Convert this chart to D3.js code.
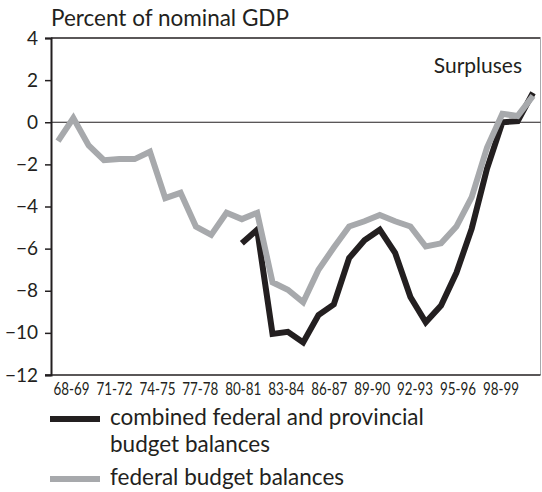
<!DOCTYPE html>
<html>
<head>
<meta charset="utf-8">
<script src="https://cdn.jsdelivr.net/npm/d3@7"></script>
<style>
  html, body { margin: 0; padding: 0; background: #fff; }
  svg { display: block; }
  text { font-family: Lato, "Open Sans", sans-serif; fill: #231f20; }
</style>
</head>
<body>
<svg id="chart" width="542" height="492"></svg>
<script>
// ---- data ----
const years = ["68-69","69-70","70-71","71-72","72-73","73-74","74-75","75-76","76-77","77-78",
  "78-79","79-80","80-81","81-82","82-83","83-84","84-85","85-86","86-87","87-88",
  "88-89","89-90","90-91","91-92","92-93","93-94","94-95","95-96","96-97","97-98",
  "98-99","99-00"];
const federal = [-0.9, 0.2, -1.1, -1.8, -1.75, -1.75, -1.4, -3.6, -3.35, -4.95,
  -5.35, -4.3, -4.6, -4.3, -7.6, -7.95, -8.55, -7.0, -5.95, -4.95,
  -4.7, -4.4, -4.7, -4.95, -5.9, -5.75, -4.95, -3.55, -1.2, 0.4,
  0.3, 1.25];
const combined = [null, null, null, null, null, null, null, null, null, null,
  null, null, -5.75, -5.1, -10.05, -9.95, -10.45, -9.15, -8.65, -6.45,
  -5.6, -5.1, -6.2, -8.3, -9.5, -8.7, -7.15, -5.05, -2.2, 0.0,
  0.05, 1.4];
const xTickLabels = ["68-69","71-72","74-75","77-78","80-81","83-84","86-87","89-90","92-93","95-96","98-99"];
const yTicks = [4, 2, 0, -2, -4, -6, -8, -10, -12];
const legendItems = [
  {label: ["combined federal and provincial", "budget balances"], color: "#231f20"},
  {label: ["federal budget balances"], color: "#a7a9ac"}
];

// ---- layout ----
const svg = d3.select("#chart");
const mLeft = 51, mRight = 540.5, mTop = 38, mBottom = 375;

const x = d3.scaleLinear().domain([0, years.length - 1]).range([58, 533]);
const xLab = d3.scalePoint().domain(xTickLabels).range([71, 500.5]);
const y = d3.scaleLinear().domain([-12, 4]).range([mBottom, mTop]);

// frame: top and right
svg.append("line").attr("x1", mLeft).attr("x2", mRight).attr("y1", mTop).attr("y2", mTop)
  .attr("stroke", "#231f20").attr("stroke-width", 1.5);
svg.append("line").attr("x1", mRight).attr("x2", mRight).attr("y1", mTop).attr("y2", mBottom)
  .attr("stroke", "#a7a9ac").attr("stroke-width", 1);

// zero line
svg.append("line").attr("x1", mLeft).attr("x2", mRight).attr("y1", y(0)).attr("y2", y(0))
  .attr("stroke", "#231f20").attr("stroke-width", 1.2);

// y axis
const yAxis = d3.axisLeft(y).tickValues(yTicks).tickSize(6).tickPadding(7).tickFormat(d3.format("d"));
const gy = svg.append("g").attr("transform", `translate(${mLeft},0)`).call(yAxis);
gy.select(".domain").attr("stroke", "#231f20").attr("stroke-width", 2);
gy.selectAll(".tick line").attr("stroke", "#231f20").attr("stroke-width", 1.5);
gy.selectAll(".tick text").attr("font-size", 19).attr("font-family", "Lato, sans-serif")
  .attr("fill", "#231f20");

// x axis baseline
svg.append("line").attr("x1", mLeft - 6).attr("x2", mRight).attr("y1", mBottom).attr("y2", mBottom)
  .attr("stroke", "#231f20").attr("stroke-width", 1.5);

// x labels
const xAxis = d3.axisBottom(xLab).tickSize(0).tickPadding(0);
const gx = svg.append("g").attr("transform", `translate(0,${mBottom})`).call(xAxis);
gx.select(".domain").remove();
gx.selectAll(".tick text").attr("font-size", 17.5).attr("font-family", "Lato, sans-serif")
  .attr("fill", "#231f20").attr("dy", null).attr("y", 19.5)
  .attr("textLength", 36).attr("lengthAdjust", "spacingAndGlyphs");

// lines
const line = d3.line().defined(d => d.v !== null).x(d => x(d.i)).y(d => y(d.v));
svg.append("path")
  .datum(combined.map((v, i) => ({i, v})))
  .attr("d", line).attr("fill", "none").attr("stroke", "#231f20")
  .attr("stroke-width", 6).attr("stroke-linejoin", "miter").attr("stroke-miterlimit", 3);
svg.append("path")
  .datum(federal.map((v, i) => ({i, v})))
  .attr("d", line).attr("fill", "none").attr("stroke", "#a7a9ac")
  .attr("stroke-width", 6).attr("stroke-linejoin", "miter").attr("stroke-miterlimit", 3);

// texts
svg.append("text").attr("x", 51).attr("y", 26).attr("font-size", 22.5)
  .text("Percent of nominal GDP");
svg.append("text").attr("x", 522).attr("y", 73).attr("text-anchor", "end").attr("font-size", 21)
  .text("Surpluses");

// legend
const legY = [419, 479];
legendItems.forEach((item, k) => {
  const g = svg.append("g");
  g.append("line").attr("x1", 50).attr("x2", 100).attr("y1", legY[k]).attr("y2", legY[k])
    .attr("stroke", item.color).attr("stroke-width", 6);
  item.label.forEach((t, j) => {
    g.append("text").attr("x", 110).attr("y", legY[k] + 6 + j * 27).attr("font-size", 22.5)
      .text(t);
  });
});
</script>
</body>
</html>
